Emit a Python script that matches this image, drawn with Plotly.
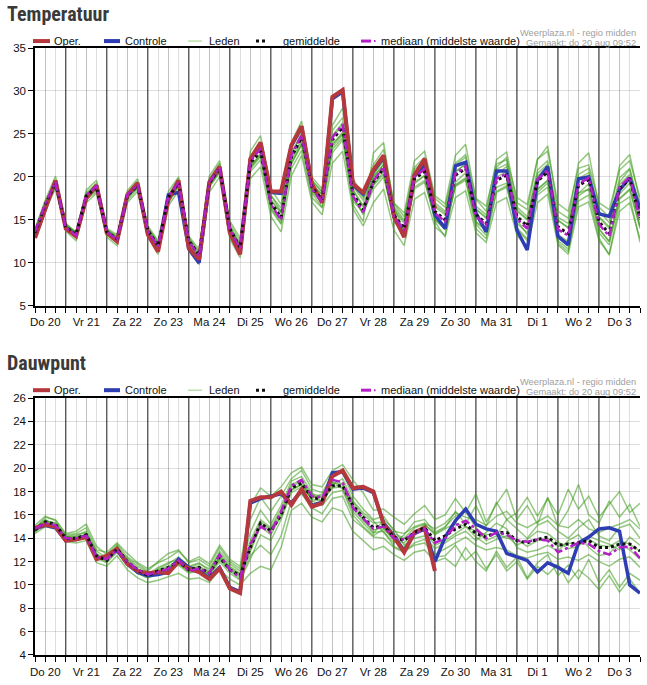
import pandas as pd
import plotly.graph_objects as go

# ---------------- data ----------------
start_time = "2020-08-20 06:00"
n_steps = 60
day_labels = ["Do 20", "Vr 21", "Za 22", "Zo 23", "Ma 24", "Di 25", "Wo 26", "Do 27",
              "Vr 28", "Za 29", "Zo 30", "Ma 31", "Di 1", "Wo 2", "Do 3"]

# Temperatuur
temp_oper = [12.9, 16.3, 19.6, 14.0, 13.1, 17.5, 19.0, 13.5, 12.5, 17.9,
             19.3, 13.3, 11.3, 17.3, 19.6, 11.7, 10.4, 19.4, 21.2, 13.5,
             11.0, 22.1, 24.0, 18.3, 18.3, 23.7, 25.9, 19.2, 17.0, 29.3,
             30.1, 19.2, 18.2, 20.8, 22.5, 15.4, 13.0, 20.2, 22.1, 16.3]
temp_ctrl = [13.0, 16.4, 19.5, 14.1, 13.2, 17.6, 19.0, 13.6, 12.6, 17.8,
             19.2, 13.4, 11.5, 17.9, 18.2, 11.6, 10.0, 19.3, 21.1, 13.6,
             11.1, 22.0, 23.9, 18.2, 18.1, 23.6, 25.8, 19.1, 17.1, 29.1,
             29.9, 19.1, 18.0, 20.7, 22.3, 15.5, 13.1, 20.1, 21.5, 15.6,
             14.0, 21.3, 21.7, 15.8, 13.6, 20.7, 20.7, 13.8, 11.5, 19.6,
             21.2, 13.1, 12.1, 19.8, 20.0, 15.7, 15.4, 18.5, 19.9, 16.3]
temp_mean = [13.5, 16.8, 19.3, 14.2, 13.3, 17.8, 18.8, 13.6, 12.8, 17.8,
             19.0, 13.8, 12.0, 17.6, 19.3, 12.6, 10.9, 19.3, 21.0, 14.0,
             11.8, 21.6, 23.0, 17.0, 15.3, 22.3, 24.6, 18.8, 17.4, 24.3,
             25.8, 18.0, 16.2, 19.4, 21.0, 15.6, 14.0, 19.8, 20.6, 16.0,
             15.0, 20.2, 21.0, 15.6, 14.6, 19.6, 20.2, 15.4, 14.3, 19.5,
             20.6, 14.2, 13.4, 19.0, 19.7, 14.8, 13.4, 18.6, 19.8, 15.2]
temp_median = [13.6, 16.9, 19.4, 14.1, 13.2, 17.9, 18.9, 13.6, 12.7, 17.9,
               19.1, 13.7, 11.9, 17.7, 19.4, 12.5, 10.8, 19.4, 21.1, 13.9,
               11.7, 21.8, 23.3, 16.8, 15.0, 22.5, 24.9, 18.6, 17.1, 24.6,
               26.1, 17.8, 15.9, 19.5, 21.2, 15.4, 13.8, 20.0, 20.9, 15.8,
               14.8, 20.4, 21.2, 15.4, 14.4, 19.8, 20.4, 15.1, 14.0, 19.7,
               20.8, 13.9, 13.2, 19.2, 19.9, 14.5, 13.1, 18.8, 20.0, 15.0]
temp_leden = [
    [14.0, 17.3, 20.1, 14.6, 13.5, 18.5, 19.6, 14.0, 13.3, 18.4,
     19.8, 14.3, 12.6, 18.3, 20.0, 13.1, 11.6, 20.1, 21.9, 14.9,
     12.9, 23.0, 24.8, 18.6, 16.8, 24.0, 26.5, 20.0, 18.6, 26.0,
     28.0, 19.8, 17.9, 21.4, 23.2, 17.0, 15.8, 21.9, 23.0, 17.8,
     16.9, 22.5, 23.8, 17.4, 16.0, 22.0, 22.9, 17.0, 16.2, 22.0,
     23.6, 16.0, 15.2, 21.6, 22.8, 16.5, 15.3, 21.3, 22.6, 17.0],
    [13.0, 16.2, 18.6, 13.7, 12.6, 17.0, 18.1, 13.0, 12.0, 17.0,
     18.3, 13.1, 11.0, 16.6, 18.4, 11.6, 9.8, 18.2, 20.0, 12.8,
     10.6, 19.8, 21.2, 15.4, 13.6, 20.1, 22.5, 17.1, 15.6, 21.6,
     23.0, 16.3, 14.3, 17.0, 18.6, 13.8, 12.0, 17.4, 18.2, 14.2,
     13.2, 17.6, 18.4, 13.5, 12.4, 17.0, 17.6, 13.2, 11.9, 17.0,
     18.0, 12.1, 11.0, 16.5, 17.1, 12.6, 11.0, 16.0, 17.0, 12.8],
    [13.6, 17.0, 19.6, 14.0, 13.2, 18.0, 19.1, 13.4, 12.5, 17.9,
     19.2, 13.5, 11.8, 17.9, 19.8, 12.2, 10.4, 19.8, 21.6, 14.3,
     12.0, 22.4, 24.1, 17.9, 16.0, 23.4, 25.6, 19.6, 18.3, 25.4,
     26.9, 18.6, 16.5, 19.0, 20.3, 14.9, 13.1, 18.8, 19.6, 15.0,
     13.9, 19.0, 19.8, 14.5, 13.2, 18.3, 19.0, 14.1, 12.8, 18.2,
     19.3, 13.0, 12.0, 17.8, 18.6, 13.5, 12.1, 17.4, 18.5, 14.0],
    [13.3, 16.6, 19.0, 14.3, 13.5, 17.6, 18.5, 13.8, 13.0, 17.6,
     18.8, 14.0, 12.3, 17.2, 18.9, 12.9, 11.3, 18.8, 20.5, 13.6,
     11.3, 20.6, 22.0, 16.2, 14.5, 21.0, 23.1, 17.6, 16.4, 22.8,
     24.3, 17.2, 15.9, 20.1, 22.2, 16.6, 15.0, 20.9, 21.8, 17.0,
     16.0, 21.4, 22.3, 16.6, 15.6, 20.9, 21.5, 16.5, 15.4, 20.8,
     21.9, 15.3, 14.6, 20.3, 21.0, 16.0, 14.7, 19.9, 21.0, 16.4],
    [13.8, 16.9, 19.2, 14.5, 13.6, 17.7, 18.6, 13.9, 13.1, 17.6,
     18.9, 14.1, 12.4, 17.4, 19.0, 12.9, 11.2, 19.0, 20.7, 14.2,
     12.1, 21.3, 22.6, 17.4, 15.8, 21.8, 24.0, 19.2, 17.9, 23.7,
     25.2, 18.4, 16.7, 19.9, 21.5, 16.1, 14.6, 20.3, 21.0, 16.5,
     15.6, 20.7, 21.4, 16.2, 15.2, 20.0, 20.6, 16.0, 15.0, 20.1,
     21.2, 14.9, 14.1, 19.6, 20.2, 15.3, 14.0, 19.1, 20.3, 15.7],
    [13.2, 16.5, 19.0, 13.9, 13.0, 17.5, 18.9, 13.3, 12.3, 17.5,
     19.1, 13.4, 11.5, 17.3, 19.5, 12.0, 10.2, 19.5, 21.2, 13.5,
     11.3, 21.0, 22.8, 16.4, 14.6, 22.6, 25.2, 18.1, 16.5, 23.2,
     24.6, 16.8, 14.8, 22.8, 24.0, 16.5, 13.6, 19.2, 20.2, 14.8,
     13.0, 19.4, 20.5, 14.7, 13.8, 21.1, 22.3, 15.0, 13.3, 18.5,
     19.6, 12.6, 11.6, 18.1, 19.2, 14.0, 12.5, 18.0, 19.3, 14.3],
    [13.7, 17.1, 19.5, 14.4, 13.4, 18.2, 19.3, 13.7, 12.9, 18.1,
     19.5, 14.0, 12.1, 17.8, 19.6, 12.7, 10.8, 19.5, 21.4, 14.6,
     12.5, 22.0, 23.3, 17.8, 16.4, 22.9, 24.8, 19.6, 18.2, 24.8,
     26.3, 19.0, 17.6, 20.4, 21.8, 16.9, 15.4, 21.1, 22.3, 17.5,
     16.5, 21.6, 22.6, 17.5, 16.6, 21.5, 22.0, 17.6, 16.8, 22.1,
     23.0, 16.9, 16.0, 21.0, 21.4, 17.0, 16.2, 20.8, 21.9, 17.6],
    [13.4, 16.6, 19.1, 14.0, 13.0, 17.9, 18.5, 13.5, 12.6, 17.7,
     18.7, 13.6, 11.7, 17.5, 19.1, 12.3, 10.5, 19.1, 20.8, 13.9,
     11.6, 21.2, 22.4, 16.6, 14.9, 21.6, 23.7, 18.3, 17.0, 23.9,
     25.0, 17.6, 15.8, 18.6, 20.0, 15.0, 13.4, 18.6, 19.4, 15.4,
     14.4, 19.1, 19.9, 14.8, 13.9, 18.8, 19.3, 14.6, 13.5, 18.6,
     19.6, 13.3, 12.5, 18.1, 18.6, 13.9, 12.5, 17.5, 18.6, 14.2],
    [13.9, 16.7, 19.4, 14.3, 13.6, 17.8, 18.7, 13.8, 13.0, 18.0,
     19.0, 13.9, 12.2, 17.7, 19.2, 12.5, 10.7, 19.2, 20.9, 14.1,
     11.9, 21.9, 23.5, 16.9, 15.1, 22.1, 24.3, 18.5, 17.2, 24.6,
     26.0, 17.8, 15.6, 19.1, 20.6, 14.9, 13.3, 19.4, 20.1, 15.1,
     13.9, 18.9, 19.6, 14.0, 12.8, 18.2, 18.8, 13.9, 12.6, 17.9,
     18.8, 12.3, 11.3, 17.2, 17.9, 12.9, 10.9, 16.9, 17.7, 12.4],
    [13.1, 16.4, 18.9, 14.1, 13.2, 17.4, 18.3, 13.5, 12.7, 17.3,
     18.6, 13.7, 12.0, 17.0, 18.8, 12.6, 10.9, 18.9, 20.6, 13.8,
     12.2, 20.9, 22.4, 17.2, 15.9, 21.5, 23.8, 19.0, 18.0, 23.5,
     24.9, 18.9, 17.3, 20.0, 21.4, 16.3, 14.8, 20.2, 21.3, 16.7,
     15.8, 20.5, 21.6, 16.3, 15.3, 20.3, 21.2, 16.2, 15.1, 20.4,
     21.5, 15.0, 14.1, 19.8, 20.5, 15.4, 14.2, 19.4, 20.9, 16.0],
]

# Dauwpunt
dew_oper = [14.9, 15.15, 15.0, 13.8, 13.9, 14.1, 12.2, 12.5, 13.1, 11.8,
            11.2, 11.0, 11.1, 11.0, 12.0, 11.4, 11.1, 10.5, 11.4, 9.7,
            9.3, 17.2, 17.5, 17.5, 18.0, 16.85, 18.2, 16.7, 17.0, 19.3,
            19.8, 18.3, 18.4, 18.0, 15.2, 14.1, 12.8, 14.5, 14.9, 11.2]
dew_ctrl = [14.8, 15.1, 14.9, 13.8, 13.9, 14.2, 12.3, 12.3, 13.0, 11.8,
            11.1, 10.8, 10.9, 11.1, 12.2, 11.5, 11.2, 10.6, 11.5, 9.8,
            9.4, 17.0, 17.4, 17.6, 17.8, 17.0, 18.1, 16.8, 17.1, 19.6,
            19.7, 18.2, 18.3, 17.9, 15.3, 14.2, 12.9, 14.4, 14.8, 12.0,
            14.1, 15.5, 16.5, 15.2, 14.8, 14.6, 12.7, 12.4, 12.1, 11.1,
            11.9, 11.5, 11.0, 13.6, 14.1, 14.8, 14.9, 14.6, 10.0, 9.3]
dew_mean = [14.7, 15.4, 15.2, 14.0, 14.0, 14.3, 12.5, 12.1, 13.1, 12.0,
            11.3, 10.8, 11.2, 11.5, 12.0, 11.3, 11.5, 11.0, 12.4, 11.3,
            10.8, 13.2, 15.3, 14.6, 16.0, 18.3, 18.7, 17.5, 17.3, 18.5,
            18.5, 16.8, 15.8, 14.9, 15.1, 14.1, 13.8, 14.5, 14.9, 13.8,
            14.2, 14.8, 15.2, 14.4, 14.1, 14.5, 14.5, 13.8, 13.6, 13.9,
            14.1, 13.4, 13.5, 13.6, 13.8, 13.2, 13.2, 13.5, 13.5, 12.9]
dew_median = [14.8, 15.3, 15.1, 14.0, 14.0, 14.2, 12.4, 12.2, 13.0, 12.0,
              11.3, 10.9, 11.1, 11.4, 12.1, 11.2, 11.4, 11.0, 12.6, 11.3,
              10.6, 13.5, 15.0, 14.5, 16.3, 18.5, 19.0, 17.6, 17.5, 19.0,
              18.8, 16.6, 15.7, 14.8, 15.0, 14.0, 13.9, 14.4, 14.8, 13.6,
              14.0, 15.1, 15.5, 14.8, 14.0, 14.5, 14.3, 13.8, 13.7, 13.9,
              13.8, 12.8, 13.2, 13.6, 13.5, 12.9, 12.6, 13.2, 13.3, 12.3]
dew_leden = [
    [15.1, 15.9, 15.5, 14.3, 14.4, 14.9, 13.0, 12.8, 13.6, 12.7,
     11.9, 11.4, 11.9, 12.3, 12.9, 12.0, 12.4, 11.8, 13.4, 12.2,
     11.6, 16.8, 18.3, 17.6, 18.4, 19.6, 20.1, 18.6, 18.4, 19.8,
     20.3, 19.0, 17.9, 16.4, 16.5, 15.8, 15.2, 16.1, 16.8, 15.6,
     16.0, 17.4, 16.2, 17.8, 15.4, 16.9, 18.2, 15.6, 16.8, 15.2,
     17.5, 15.0, 16.4, 18.6, 16.0, 15.3, 17.2, 15.8, 16.9, 15.0],
    [14.4, 15.0, 14.8, 13.7, 13.6, 13.8, 11.9, 11.6, 12.5, 11.3,
     10.6, 10.2, 10.4, 10.7, 11.0, 10.5, 10.6, 10.2, 11.3, 10.5,
     10.0, 11.0, 11.6, 11.3, 13.2, 16.4, 17.0, 15.8, 15.4, 16.6,
     16.3, 14.6, 13.8, 13.0, 13.3, 12.6, 12.1, 12.8, 13.0, 12.0,
     12.3, 11.6, 13.2, 12.0, 11.2, 12.9, 11.5, 12.4, 10.6, 11.9,
     12.6, 10.8, 11.7, 10.5, 12.2, 10.2, 11.3, 9.8, 11.0, 10.4],
    [14.6, 15.5, 15.3, 14.1, 14.2, 14.6, 12.7, 12.0, 13.3, 11.8,
     11.0, 10.6, 11.4, 11.8, 12.4, 11.6, 11.9, 11.2, 12.9, 11.8,
     11.2, 14.5, 16.4, 15.2, 16.8, 18.9, 19.3, 17.9, 17.1, 18.6,
     19.1, 17.2, 16.2, 15.5, 14.5, 13.6, 14.3, 15.4, 15.6, 14.5,
     15.0, 15.9, 16.3, 14.9, 13.8, 14.2, 15.6, 14.8, 14.0, 15.1,
     15.5, 14.6, 14.0, 14.9, 15.6, 14.2, 13.8, 14.9, 15.2, 14.0],
    [14.9, 15.6, 15.0, 13.9, 13.8, 14.0, 12.2, 12.4, 12.9, 12.3,
     11.6, 11.1, 11.0, 11.2, 11.7, 11.0, 11.2, 10.7, 12.0, 11.0,
     10.4, 12.2, 14.3, 13.8, 15.6, 17.9, 18.4, 17.4, 17.8, 18.9,
     18.2, 16.3, 15.3, 14.4, 15.6, 14.8, 13.4, 14.0, 14.2, 13.1,
     13.6, 14.2, 14.6, 13.8, 14.5, 15.3, 14.8, 13.2, 12.8, 13.0,
     13.4, 12.9, 13.8, 14.3, 13.2, 12.5, 12.7, 13.6, 13.0, 12.2],
    [14.7, 15.2, 15.1, 14.2, 14.3, 14.5, 12.9, 12.3, 13.2, 12.2,
     11.4, 10.9, 11.5, 11.9, 12.2, 11.5, 11.8, 11.4, 12.7, 11.6,
     11.0, 13.8, 15.6, 14.9, 16.5, 18.6, 19.0, 17.2, 16.8, 17.9,
     18.1, 16.0, 15.0, 14.2, 14.8, 13.8, 13.2, 14.3, 15.2, 14.3,
     14.8, 15.3, 15.0, 14.1, 13.5, 13.9, 14.2, 13.4, 13.9, 14.6,
     14.4, 13.7, 13.1, 13.3, 14.2, 13.8, 13.5, 13.0, 14.1, 13.4],
    [14.5, 15.3, 15.2, 14.0, 13.9, 14.4, 12.5, 12.1, 13.4, 12.1,
     11.2, 10.9, 11.2, 11.3, 11.8, 11.1, 11.3, 10.9, 12.2, 11.2,
     10.5, 12.5, 13.4, 12.6, 14.2, 17.2, 17.8, 16.6, 16.1, 17.4,
     17.6, 15.6, 14.9, 14.1, 14.0, 13.2, 12.8, 13.6, 13.9, 12.6,
     13.1, 13.6, 14.1, 13.4, 13.0, 13.2, 13.0, 12.5, 12.3, 12.6,
     12.8, 12.2, 12.4, 12.1, 12.6, 12.0, 11.6, 12.2, 12.4, 11.5],
    [14.8, 15.8, 15.6, 14.4, 14.6, 15.2, 13.3, 12.6, 13.5, 12.4,
     11.8, 11.2, 12.0, 12.7, 13.0, 11.9, 12.2, 11.6, 13.2, 12.0,
     11.4, 15.6, 17.5, 16.3, 17.6, 19.1, 19.8, 18.2, 17.9, 19.4,
     19.6, 17.6, 16.5, 15.6, 15.9, 14.6, 14.4, 15.0, 15.3, 14.8,
     15.3, 16.2, 15.8, 15.6, 15.1, 15.9, 16.3, 15.3, 14.9, 15.4,
     15.9, 15.1, 14.9, 15.6, 14.8, 14.5, 14.9, 15.2, 15.6, 14.8],
    [14.6, 15.4, 15.0, 13.8, 13.9, 14.1, 12.3, 11.9, 12.8, 11.7,
     11.0, 10.6, 10.9, 11.3, 11.9, 11.3, 11.4, 10.9, 12.3, 11.3,
     10.7, 12.9, 15.0, 14.3, 16.0, 18.1, 18.6, 17.3, 17.2, 18.3,
     18.4, 16.6, 15.5, 14.7, 14.9, 13.9, 13.6, 14.6, 14.6, 13.4,
     13.8, 14.4, 15.0, 14.6, 14.3, 14.4, 14.0, 13.9, 13.3, 13.8,
     14.0, 13.3, 13.6, 13.5, 13.9, 13.4, 13.3, 13.8, 13.5, 12.9],
    [14.8, 15.5, 15.3, 14.1, 14.1, 14.3, 12.6, 12.2, 13.0, 12.0,
     11.3, 10.8, 11.2, 11.5, 12.0, 11.4, 11.6, 11.1, 12.5, 11.5,
     10.9, 13.1, 15.2, 14.7, 15.8, 18.2, 18.6, 17.6, 17.5, 18.7,
     18.7, 16.9, 15.7, 14.5, 14.6, 13.3, 12.9, 13.4, 13.6, 12.4,
     12.5, 13.4, 12.1, 12.9, 11.4, 12.6, 11.2, 12.0, 10.5, 11.6,
     10.9, 11.8, 10.2, 11.3, 10.6, 9.6, 10.8, 9.4, 10.5, 9.3],
    [14.7, 15.3, 15.1, 14.0, 14.0, 14.2, 12.4, 12.0, 13.1, 11.9,
     11.3, 10.8, 11.3, 11.6, 12.1, 11.4, 11.5, 11.0, 12.4, 11.4,
     10.8, 13.3, 15.4, 14.8, 16.2, 18.4, 18.9, 17.8, 17.6, 18.4,
     18.6, 17.1, 16.0, 15.3, 15.4, 14.4, 14.0, 14.9, 15.2, 14.4,
     14.9, 16.3, 15.2, 16.8, 15.0, 17.1, 15.6, 16.2, 17.5, 15.9,
     17.4, 16.0, 18.2, 16.5, 17.6, 15.8, 16.9, 18.0, 16.2, 17.0],
]

# ---------------- styling ----------------
C_OPER = "#b5383c"
C_CTRL = "#2f3db4"
C_LID = "rgba(60,155,25,0.55)"
C_LID_LEG = "#9ccf85"
C_MEAN = "#111111"
C_MED = "#b41fc8"
GRID = "rgba(0,0,0,0.13)"
DAYLINE = "#4a4a4a"
FONT = "Liberation Sans, Arial, sans-serif"
TITLEFONT = "Liberation Sans Narrow, Roboto Condensed, Roboto, Arial, sans-serif"

times = pd.date_range(start_time, periods=n_steps, freq="6h")
label_pos = pd.date_range(times[0].normalize() + pd.Timedelta(hours=12),
                          periods=len(day_labels), freq="D")
day_edges = pd.date_range(times[0].normalize() + pd.Timedelta(days=1),
                          times[-1] - pd.Timedelta(hours=1), freq="D")

W, H = 647, 685
ML, MR, MT, MB = 35, 7, 48, 25
PW, PH = W - ML - MR, H - MT - MB


def px(xp):
    return (xp - ML) / PW


def py(yp):
    return (H - MB - yp) / PH


fig = go.Figure()


def add_panel(xa, ya, leden, ctrl, oper, mean, med):
    for m in leden:
        fig.add_trace(go.Scatter(x=times, y=m, xaxis=xa, yaxis=ya, mode="lines",
                                 line=dict(color=C_LID, width=1.5), showlegend=False,
                                 hoverinfo="skip"))
    fig.add_trace(go.Scatter(x=times[:len(ctrl)], y=ctrl, xaxis=xa, yaxis=ya, mode="lines",
                             line=dict(color=C_CTRL, width=3.5), showlegend=False))
    fig.add_trace(go.Scatter(x=times[:len(oper)], y=oper, xaxis=xa, yaxis=ya, mode="lines",
                             line=dict(color=C_OPER, width=4), showlegend=False))
    fig.add_trace(go.Scatter(x=times, y=mean, xaxis=xa, yaxis=ya, mode="lines",
                             line=dict(color=C_MEAN, width=3, dash="dot"), showlegend=False))
    fig.add_trace(go.Scatter(x=times, y=med, xaxis=xa, yaxis=ya, mode="lines",
                             line=dict(color=C_MED, width=2.5, dash="dashdot"), showlegend=False))


add_panel("x", "y", temp_leden, temp_ctrl, temp_oper, temp_mean, temp_median)
add_panel("x2", "y2", dew_leden, dew_ctrl, dew_oper, dew_mean, dew_median)

top_dom = [py(308), 1.0]
bot_dom = [0.0, py(401)]

TICKFONT = dict(family=FONT, size=11.5, color="#111")
xcommon = dict(type="date", range=[times[0], times[-1]], tickmode="array",
               tickvals=label_pos, ticktext=day_labels, ticks="outside", ticklen=5,
               tickcolor="black", tickwidth=1, showgrid=True, gridcolor=GRID, gridwidth=1,
               showline=True, linecolor="black", linewidth=1.5, mirror=True,
               zeroline=False, tickfont=TICKFONT,
               minor=dict(tickmode="linear", tick0="2020-08-20", dtick=6 * 3600 * 1000,
                          ticks="outside", ticklen=5, tickcolor="black", tickwidth=1,
                          showgrid=True, gridcolor=GRID, gridwidth=1),
               fixedrange=True)
ycommon = dict(ticks="outside", ticklen=5, tickcolor="black", showgrid=True,
               gridcolor=GRID, showline=True, linecolor="black", linewidth=1.5,
               zeroline=False, tickfont=TICKFONT, fixedrange=True)

fig.update_layout(
    width=W, height=H, margin=dict(l=ML, r=MR, t=MT, b=MB),
    paper_bgcolor="white", plot_bgcolor="white", showlegend=False,
    xaxis=dict(domain=[0, 1], anchor="y", **xcommon),
    yaxis=dict(domain=top_dom, anchor="x", range=[5, 35], tick0=5, dtick=5, **ycommon),
    xaxis2=dict(domain=[0, 1], anchor="y2", **xcommon),
    yaxis2=dict(domain=bot_dom, anchor="x2", range=[4, 26], tick0=4, dtick=2, **ycommon),
)

shapes = []
for xr, yr in (("x", "y domain"), ("x2", "y2 domain")):
    for d in day_edges:
        shapes.append(dict(type="line", xref=xr, yref=yr, x0=d, x1=d, y0=0, y1=1,
                           line=dict(color=DAYLINE, width=1.2), layer="below"))

annotations = []
for title, ty, ly in (("Temperatuur", 14, 41), ("Dauwpunt", 366, 393)):
    annotations.append(dict(text="<b>" + title + "</b>", xref="paper", yref="paper",
                            x=px(5), y=py(ty), xanchor="left", yanchor="middle",
                            showarrow=False,
                            font=dict(family=TITLEFONT, size=20, color="#3a3a3a")))
    # watermark
    annotations.append(dict(text="Weerplaza.nl - regio midden", xref="paper", yref="paper",
                            x=px(638), y=py(ly - 8.5), xanchor="right", yanchor="middle",
                            showarrow=False, font=dict(family=FONT, size=9.3, color="#a0a0a0")))
    annotations.append(dict(text="Gemaakt: do 20 aug 09:52", xref="paper", yref="paper",
                            x=px(638), y=py(ly + 1.5), xanchor="right", yanchor="middle",
                            showarrow=False, font=dict(family=FONT, size=9.3, color="#a0a0a0")))
    # legend entries
    legend_items = [
        ("Oper.", 33, 50, 52, dict(color=C_OPER, width=4)),
        ("Controle", 104, 120, 123, dict(color=C_CTRL, width=4)),
        ("Leden", 188, 202, 207, dict(color=C_LID_LEG, width=1)),
        ("gemiddelde", 256, 268, 281, dict(color=C_MEAN, width=3, dash="dot")),
        ("mediaan (middelste waarde)", 361, 371, 379, dict(color=C_MED, width=3)),
    ]
    for txt, x0, x1, xt, ln in legend_items:
        shapes.append(dict(type="line", xref="paper", yref="paper", x0=px(x0), x1=px(x1),
                           y0=py(ly), y1=py(ly), line=ln, layer="above"))
        annotations.append(dict(text=txt, xref="paper", yref="paper", x=px(xt), y=py(ly),
                                xanchor="left", yanchor="middle", showarrow=False,
                                font=dict(family=FONT, size=11, color="#111")))
    shapes.append(dict(type="line", xref="paper", yref="paper", x0=px(374), x1=px(375.5),
                       y0=py(ly), y1=py(ly), line=dict(color=C_MED, width=2), layer="above"))

fig.update_layout(shapes=shapes, annotations=annotations)
fig.write_html("out.html", config={"displayModeBar": False},
               post_script="document.body.style.margin='0';document.body.style.padding='0';")
